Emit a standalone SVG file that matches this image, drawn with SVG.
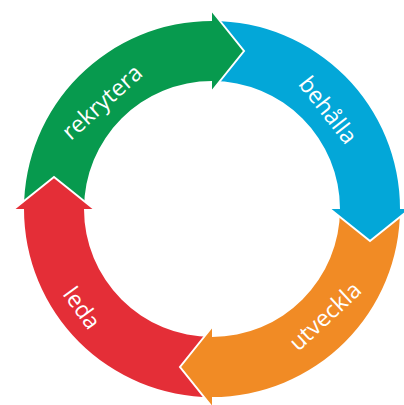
<svg xmlns="http://www.w3.org/2000/svg" width="404" height="405" viewBox="0 0 404 405">
  <style>
    .green{fill:#079a4e}
    .blue{fill:#03a7d8}
    .orange{fill:#f18b25}
    .red{fill:#e42e37}
    .edge{fill:none;stroke:#ffffff;stroke-width:2;stroke-linejoin:miter}
    .lbl{font-family:"Open Sans","Noto Sans","Liberation Sans",sans-serif;font-size:23px;fill:#ffffff;text-anchor:middle}
  </style>
  <rect width="404" height="405" fill="#ffffff"/>
  <g id="rekrytera">
    <path class="green" d="M24,209 A188,188 0 0 1 212,21 L212,81 A128,128 0 0 0 84,209 Z"/>
  </g>
  <g id="behalla">
    <path class="blue" d="M212,21 A188,188 0 0 1 400,209 L340,209 A128,128 0 0 0 212,81 Z"/>
  </g>
  <g id="utveckla">
    <path class="orange" d="M400,209 A188,188 0 0 1 212,397 L212,337 A128,128 0 0 0 340,209 Z"/>
  </g>
  <g id="leda">
    <path class="red" d="M212,397 A188,188 0 0 1 24,209 L84,209 A128,128 0 0 0 212,337 Z"/>
  </g>
  <g id="connectors">
    <path class="green" d="M212,11 L244,51 L212,91 Z"/>
    <path class="edge" d="M212,11 L244,51 L212,91"/>
    <path class="blue" d="M410,209 L370,241 L330,209 Z"/>
    <path class="edge" d="M410,209 L370,241 L330,209"/>
    <path class="orange" d="M212,407 L180,367 L212,327 Z"/>
    <path class="edge" d="M212,407 L180,367 L212,327"/>
    <path class="red" d="M14,209 L54,177 L94,209 Z"/>
    <path class="edge" d="M14,209 L54,177 L94,209"/>
  </g>
  <g id="labels">
    <text class="lbl" transform="translate(102,102) rotate(-42)" dy="0.35em">rekrytera</text>
    <text class="lbl" transform="translate(328,110) rotate(52)" dy="0.35em">behålla</text>
    <text class="lbl" transform="translate(325,316) rotate(-43)" dy="0.35em">utveckla</text>
    <text class="lbl" transform="translate(82,308) rotate(54)" dy="0.35em">leda</text>
  </g>
</svg>
